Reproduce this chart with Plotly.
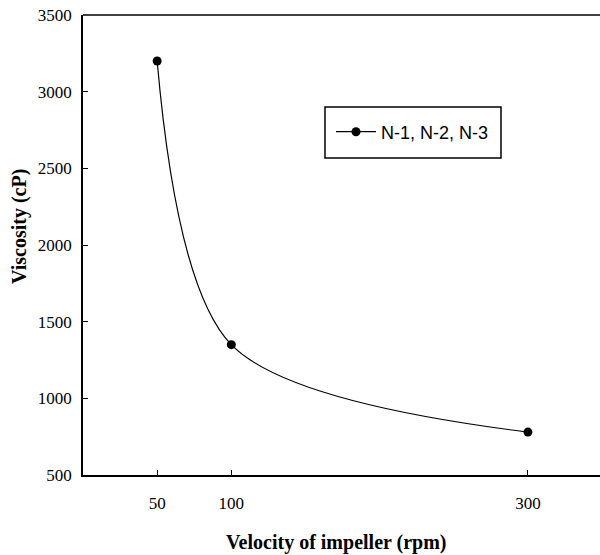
import plotly.graph_objects as go

velocity = [50, 100, 300]
viscosity = [3200, 1350, 780]
series_name = "N-1, N-2, N-3"
x_ticks = [50, 100, 300]
y_ticks = [500, 1000, 1500, 2000, 2500, 3000, 3500]

fig = go.Figure()
fig.add_trace(go.Scatter(
    x=velocity, y=viscosity, name=series_name,
    mode="lines+markers",
    line=dict(color="black", width=1.2, shape="spline", smoothing=0.9),
    marker=dict(color="black", size=9, symbol="circle"),
))

serif = "Times New Roman, Liberation Serif, serif"
W, L, T, H = 517, 83, 15, 460
fig.update_layout(
    width=600, height=555,
    margin=dict(l=L, r=0, t=T, b=80),
    paper_bgcolor="white", plot_bgcolor="white",
    showlegend=True,
    legend=dict(
        x=(331 - L) / W, y=(475 - 132) / H, xanchor="left", yanchor="middle",
        borderwidth=0, bgcolor="rgba(0,0,0,0)", itemwidth=40,
        font=dict(family="Liberation Sans", size=18, color="black"),
    ),
    xaxis=dict(
        range=[0, 348.6], tickvals=x_ticks, ticks="inside", ticklen=5,
        tickcolor="black", showline=True, linecolor="black", linewidth=1.5,
        mirror=False, showgrid=False, zeroline=False, ticklabelstandoff=12,
        tickfont=dict(family=serif, size=17, color="black"),
    ),
    yaxis=dict(
        range=[500, 3500], tickvals=y_ticks, ticks="inside", ticklen=5,
        tickcolor="black", showline=True, linecolor="black", linewidth=1.5,
        showgrid=False, zeroline=False, ticklabelstandoff=6,
        tickfont=dict(family=serif, size=17, color="black"),
    ),
    shapes=[
        dict(type="line", xref="paper", yref="paper", x0=0, x1=1, y0=1, y1=1,
             line=dict(color="black", width=1.5)),
        dict(type="rect", xref="paper", yref="paper",
             x0=(325 - L) / W, x1=(501 - L) / W, y0=(475 - 158) / H, y1=(475 - 107) / H,
             line=dict(color="black", width=1.5), fillcolor="rgba(0,0,0,0)"),
    ],
    annotations=[
        dict(text="<b>Velocity of impeller (rpm)</b>", xref="paper", yref="paper",
             x=(336 - L) / W, y=-(542 - 475) / H, xanchor="center", yanchor="middle",
             showarrow=False, font=dict(family=serif, size=20, color="black")),
        dict(text="<b>Viscosity (cP)</b>", xref="paper", yref="paper",
             x=-(L - 19) / W, y=(475 - 227) / H, xanchor="center", yanchor="middle",
             textangle=-90, showarrow=False, font=dict(family=serif, size=20, color="black")),
    ],
)

fig.write_html("out.html")
